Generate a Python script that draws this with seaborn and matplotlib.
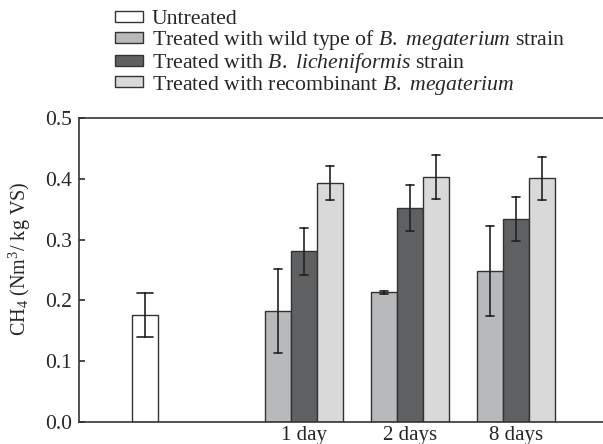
import matplotlib
matplotlib.use("Agg")
import matplotlib.pyplot as plt
import seaborn as sns
import pandas as pd

# --- values ---
control_label = "Untreated"
control_mean = 0.176
control_err = 0.036

days = ["1 day", "2 days", "8 days"]
treatments = [
    r"Treated with wild type of $\it{B.}$ $\it{megaterium}$ strain",
    r"Treated with $\it{B.}$ $\it{licheniformis}$ strain",
    r"Treated with recombinant $\it{B.}$ $\it{megaterium}$",
]
wild_mean = [0.182, 0.213, 0.249]
wild_err = [0.069, 0.002, 0.074]
lich_mean = [0.281, 0.352, 0.334]
lich_err = [0.039, 0.038, 0.037]
recomb_mean = [0.394, 0.403, 0.401]
recomb_err = [0.028, 0.036, 0.035]

# layout: where each group sits on the numeric x axis
control_pos = 0.0
day_pos = [1.5, 2.5, 3.5]

colors = ["#b8b9bb", "#5f6062", "#d9d9d9"]
edge = "#333333"
FS = 15

sns.set_theme(style="ticks")
plt.rcParams["font.family"] = ["Liberation Serif", "DejaVu Serif"]
plt.rcParams["mathtext.fontset"] = "custom"
plt.rcParams["mathtext.rm"] = "Liberation Serif"
plt.rcParams["mathtext.it"] = "Liberation Serif:italic"
plt.rcParams["font.size"] = FS

# two rows per bar (mean - err, mean + err) so the min/max interval is the error bar
rows = []
for name, means, errs in zip(treatments, [wild_mean, lich_mean, recomb_mean],
                             [wild_err, lich_err, recomb_err]):
    for pos, m, e in zip(day_pos, means, errs):
        rows.append({"x": pos, "treatment": name, "ch4": m - e})
        rows.append({"x": pos, "treatment": name, "ch4": m + e})
df = pd.DataFrame(rows)
ctrl = pd.DataFrame({"x": [control_pos] * 2,
                     "ch4": [control_mean - control_err, control_mean + control_err]})

minmax = lambda v: (v.min(), v.max())
err_kws = {"color": "#222222", "linewidth": 1.2}

fig = plt.figure(figsize=(6.03, 4.44), dpi=100)
ax = fig.add_axes([0.131, 0.0502, 0.869, 0.6834])

sns.barplot(data=ctrl, x="x", y="ch4", native_scale=True, width=0.245,
            estimator="mean", errorbar=minmax, capsize=0.15, err_kws=err_kws,
            color="white", edgecolor=edge, linewidth=1.0, saturation=1,
            label=control_label, ax=ax)
sns.barplot(data=df, x="x", y="ch4", hue="treatment", hue_order=treatments,
            native_scale=True, width=0.74, dodge=True, palette=colors,
            estimator="mean", errorbar=minmax, capsize=0.22, err_kws=err_kws,
            edgecolor=edge, linewidth=1.0, saturation=1, ax=ax)

ax.set_xlim(-0.62, 4.32)
ax.set_ylim(0, 0.5)
ax.set_yticks([0.0, 0.1, 0.2, 0.3, 0.4, 0.5])
ax.set_yticklabels(["0.0", "0.1", "0.2", "0.3", "0.4", "0.5"])
ax.set_xticks(day_pos)
ax.set_xticklabels(days)
ax.tick_params(axis="x", length=0, pad=3, labelsize=FS)
ax.tick_params(axis="y", direction="in", length=4, labelsize=15.5, color="#333333", pad=5)
ax.set_xlabel("")
ax.set_ylabel(r"CH$_4$ (Nm$^3$/ kg VS)", fontsize=14.5)
ax.yaxis.set_label_coords(-0.088, 0.538)

for side in ["left", "bottom", "top"]:
    ax.spines[side].set_visible(True)
    ax.spines[side].set_color("#333333")
    ax.spines[side].set_linewidth(1.2)
ax.spines["right"].set_visible(False)

handles, labels = ax.get_legend_handles_labels()
order = [labels.index(control_label)] + [labels.index(t) for t in treatments]
ax.legend([handles[i] for i in order], [labels[i] for i in order],
          loc="lower left", bbox_to_anchor=(0.047, 1.035),
          frameon=False, fontsize=15.7, handlelength=1.3, handleheight=0.4,
          handletextpad=0.42, labelspacing=-0.05, borderaxespad=0.1)

fig.savefig("out.png", dpi=100)
